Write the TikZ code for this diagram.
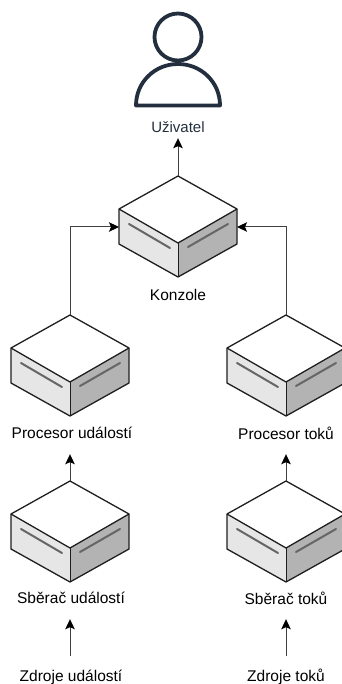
\documentclass[tikz,border=0pt]{standalone}
\usepackage{fontspec}
\setmainfont{Liberation Sans}
\usetikzlibrary{arrows.meta}

\definecolor{navy}{HTML}{232F3E}
\definecolor{edgeline}{HTML}{1F1F1F}
\definecolor{sideleft}{HTML}{E6E6E6}
\definecolor{sideright}{HTML}{B3B3B3}
\definecolor{slot}{HTML}{666666}

\tikzset{
  serverbox/.pic={
    \fill[white] (0,0) -- (59,33) -- (0,67) -- (-59,33) -- cycle;
    \fill[sideleft] (-59,33) -- (0,67) -- (0,101) -- (-59,68) -- cycle;
    \fill[sideright] (59,33) -- (0,67) -- (0,101) -- (59,68) -- cycle;
    \draw[slot,line width=2pt,line cap=round] (-49,48) -- (-8,72);
    \draw[slot,line width=2pt,line cap=round] (10,71) -- (50,48);
    \draw[edgeline,line width=1.3pt,line join=round]
      (0,0) -- (59,33) -- (59,68) -- (0,101) -- (-59,68) -- (-59,33) -- cycle;
    \draw[edgeline,line width=1.3pt,line join=round] (-59,33) -- (0,67) -- (59,33);
    \draw[edgeline,line width=0.5pt] (0,67) -- (0,101);
    \coordinate (-top) at (0,0);
    \coordinate (-west) at (-59,51);
    \coordinate (-east) at (59,51);
  },
  label/.style={font=\fontsize{15.5}{18}\selectfont,inner sep=0pt,minimum height=42pt},
  flow/.style={draw=black!75,line width=1pt,-{Stealth[length=10pt,width=9.5pt,inset=2pt,color=black]}}
}

\begin{document}
\begin{tikzpicture}[x=1pt,y=-1pt]
\useasboundingbox (0,0) rectangle (342,684);

% user
\draw[navy,line width=3.8pt] (178,37) circle (23.5pt);
\draw[navy,line width=3.8pt,line join=round] (136,105.5) .. controls (136,82) and (155,64) .. (178,64)
  .. controls (201,64) and (220,82) .. (220,105.5) -- cycle;

% servers
\pic (kon) at (178,176) {serverbox};
\pic (pud) at (70,315) {serverbox};
\pic (pto) at (286,315) {serverbox};
\pic (sud) at (70,481) {serverbox};
\pic (sto) at (286,481) {serverbox};

% labels
\node[label,minimum height=22pt,text=navy,font=\fontsize{15}{18}\selectfont] (uziv) at (178,127) {Uživatel};
\node[label] (lkon) at (178,295) {Konzole};
\node[label] (lpud) at (72,433) {Procesor událostí};
\node[label] (lpto) at (286,433) {Procesor toků};
\node[label] (lsud) at (71,598) {Sběrač událostí};
\node[label] (lsto) at (286,598) {Sběrač toků};
\node[label] (zud) at (71,677) {Zdroje událostí};
\node[label] (zto) at (286,677) {Zdroje toků};

% connectors
\draw[flow] (kon-top) -- (uziv.south);
\draw[flow] (pud-top) |- (kon-west);
\draw[flow] (pto-top) |- (kon-east);
\draw[flow] (sud-top) -- (lpud.south -| sud-top);
\draw[flow] (sto-top) -- (lpto.south);
\draw[flow] (zud.north -| sud-top) -- (lsud.south -| sud-top);
\draw[flow] (zto.north) -- (lsto.south);
\end{tikzpicture}
\end{document}
